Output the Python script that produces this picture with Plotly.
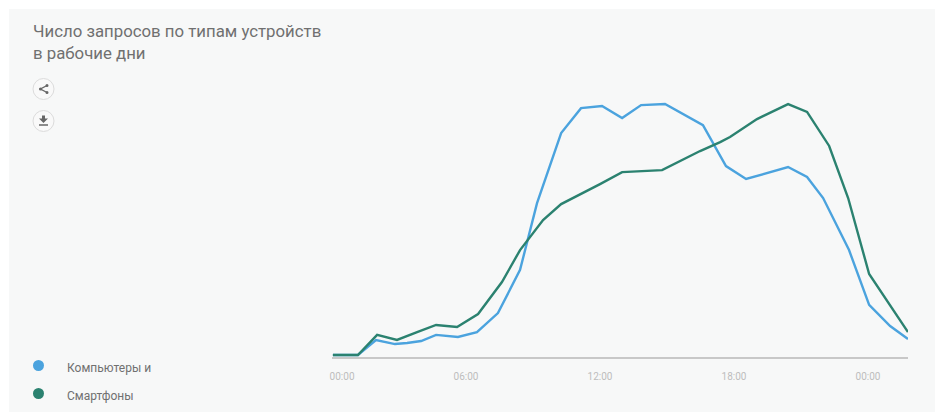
import plotly.graph_objects as go

W, H = 935, 412
LEFT, RIGHT, TOP, BOTTOM = 332, 908, 100, 357

TITLE = "Число запросов по типам устройств<br>в рабочие дни"
SERIES_NAMES = ["Компьютеры и", "Смартфоны"]
SERIES_COLORS = ["#4ba3de", "#2b8270"]

# Hour of the day (running past midnight) and relative request volume
desktop_hours = [0.04, 1.16, 1.97, 2.82, 3.36, 3.99, 4.66, 5.64, 6.49, 7.43, 8.42, 9.18, 10.26, 11.15,
                 12.09, 12.99, 13.84, 14.91, 16.61, 17.64, 18.54, 20.42, 21.27, 21.99, 23.15, 24.05, 24.99, 25.79]
desktop_values = [0.8, 0.8, 6.7, 5.1, 5.5, 6.3, 8.7, 7.9, 9.8, 17.3, 34.3, 60.6, 88.2, 98.0,
                  98.8, 94.1, 99.2, 99.6, 91.3, 75.2, 70.1, 74.8, 70.9, 62.6, 42.1, 20.5, 12.2, 7.1]
mobile_hours = [0.04, 1.16, 2.02, 2.91, 3.81, 4.66, 5.60, 6.54, 7.61, 8.42, 9.45, 10.26, 12.0,
                12.99, 14.78, 16.48, 17.38, 17.82, 19.03, 20.42, 21.27, 22.26, 23.11, 24.05, 25.79]
mobile_values = [0.8, 0.8, 8.7, 6.7, 9.8, 12.6, 11.8, 16.9, 29.5, 42.1, 53.9, 60.2, 68.1,
                 72.8, 73.6, 81.1, 84.6, 86.6, 93.7, 99.6, 96.5, 83.1, 62.6, 32.7, 9.8]

tick_positions = [0.45, 6, 12, 18, 24]
tick_labels = ["00:00", "06:00", "12:00", "18:00", "00:00"]


def px(x):
    return (x - LEFT) / (RIGHT - LEFT)


def py(y):
    return (BOTTOM - y) / (BOTTOM - TOP)


def path(points, close=False):
    d = "M" + " L".join(f"{px(x):.5f},{py(y):.5f}" for x, y in points)
    return d + (" Z" if close else "")


def circle(cx, cy, r, **kw):
    return dict(type="circle", xref="paper", yref="paper", x0=px(cx - r), x1=px(cx + r),
                y0=py(cy - r), y1=py(cy + r), layer="below", **kw)


fig = go.Figure()
fig.add_trace(go.Scatter(x=desktop_hours, y=desktop_values, mode="lines", name=SERIES_NAMES[0],
                         line=dict(color=SERIES_COLORS[0], width=2.4), hoverinfo="skip"))
fig.add_trace(go.Scatter(x=mobile_hours, y=mobile_values, mode="lines", name=SERIES_NAMES[1],
                         line=dict(color=SERIES_COLORS[1], width=2.4), hoverinfo="skip"))

shapes = [
    # Card behind the whole chart
    dict(type="rect", xref="paper", yref="paper", x0=px(9), x1=px(935), y0=py(9), y1=py(412),
         fillcolor="#f7f8f8", line_width=0, layer="below"),
    # Share and download buttons
    circle(43.5, 89, 10.5, fillcolor="#f9f9f9", line=dict(color="#dcdcdc", width=1)),
    circle(43.5, 121, 10.5, fillcolor="#f9f9f9", line=dict(color="#dcdcdc", width=1)),
    dict(type="path", xref="paper", yref="paper", path=path([(47, 85.5), (40.5, 89), (47, 92.5)]),
         line=dict(color="#666666", width=1.4)),
    circle(47, 85.5, 1.5, fillcolor="#666666", line_width=0),
    circle(40.5, 89, 1.5, fillcolor="#666666", line_width=0),
    circle(47, 92.5, 1.5, fillcolor="#666666", line_width=0),
    dict(type="path", xref="paper", yref="paper",
         path=path([(42, 115.5), (45, 115.5), (45, 118.5), (48, 118.5), (43.5, 123), (39, 118.5), (42, 118.5)], True),
         fillcolor="#666666", line_width=0),
    dict(type="line", xref="paper", yref="paper", x0=px(39), x1=px(48), y0=py(125), y1=py(125),
         line=dict(color="#666666", width=1.5)),
]

annotations = [
    dict(text=TITLE, xref="paper", yref="paper", x=px(31), y=py(18.5), xanchor="left", yanchor="top",
         align="left", showarrow=False, font=dict(family="Roboto", size=16.8, color="#707070")),
]

# Legend rows
for name, color, row_y, text_x in zip(SERIES_NAMES, SERIES_COLORS, [366, 394], [65, 65]):
    shapes.append(circle(38.5, row_y - 0.5, 5.5, fillcolor=color, line_width=0))
    annotations.append(dict(text=name, xref="paper", yref="paper", x=px(text_x), y=py(row_y + 1.5),
                            xanchor="left", yanchor="middle", showarrow=False,
                            font=dict(family="Roboto", size=12, color="#707070")))

fig.update_layout(
    width=W, height=H, autosize=False,
    margin=dict(l=LEFT, r=W - RIGHT, t=TOP, b=H - BOTTOM, pad=0),
    paper_bgcolor="#ffffff", plot_bgcolor="rgba(0,0,0,0)",
    showlegend=False, shapes=shapes, annotations=annotations,
    xaxis=dict(range=[0, 25.79], tickmode="array", tickvals=tick_positions, ticktext=tick_labels,
               showgrid=False, zeroline=False, showline=True, linecolor="#c8c8c8", linewidth=2,
               ticks="outside", ticklen=9, tickcolor="rgba(0,0,0,0)",
               tickfont=dict(family="Roboto", size=10, color="#bdbdbd")),
    yaxis=dict(range=[0, 101.2], visible=False, fixedrange=True),
)

fig.write_html("out.html", config={"displayModeBar": False})
